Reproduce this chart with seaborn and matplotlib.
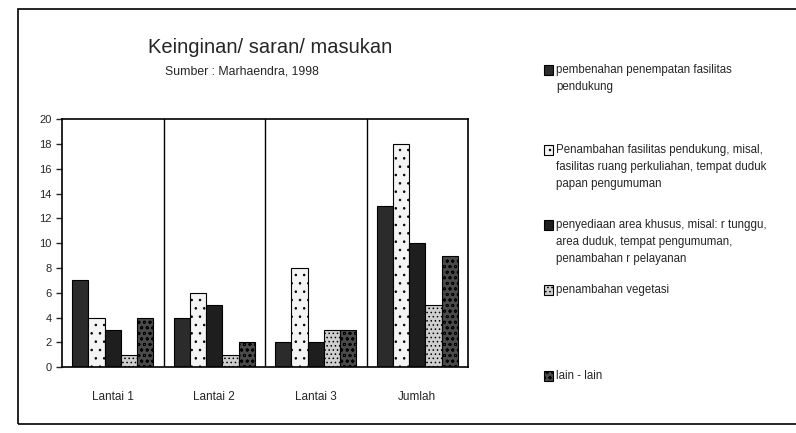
import matplotlib
matplotlib.use("Agg")
import matplotlib.pyplot as plt
import seaborn as sns
import pandas as pd
from matplotlib.patches import Rectangle

categories = ["Lantai 1", "Lantai 2", "Lantai 3", "Jumlah"]
series_names = [
    "pembenahan penempatan fasilitas\npendukung",
    "Penambahan fasilitas pendukung, misal,\nfasilitas ruang perkuliahan, tempat duduk\npapan pengumuman",
    "penyediaan area khusus, misal: r tunggu,\narea duduk, tempat pengumuman,\npenambahan r pelayanan",
    "penambahan vegetasi",
    "lain - lain",
]
s1 = [7, 4, 2, 13]
s2 = [4, 6, 8, 18]
s3 = [3, 5, 2, 10]
s4 = [1, 1, 3, 5]
s5 = [4, 2, 3, 9]
yticks = [0, 2, 4, 6, 8, 10, 12, 14, 16, 18, 20]

title = "Keinginan/ saran/ masukan"
subtitle = "Sumber : Marhaendra, 1998"

all_series = [s1, s2, s3, s4, s5]
rows = []
for name, vals in zip(series_names, all_series):
    for c, v in zip(categories, vals):
        rows.append({"cat": c, "series": name, "val": v})
df = pd.DataFrame(rows)

colors = ["#2b2b2b", "#f4f4f4", "#1e1e1e", "#cfcfcf", "#4a4a4a"]
hatches = [None, "..", None, "....", "ooo"]

sns.set_style("white")
plt.rcParams["font.family"] = ["Liberation Sans", "DejaVu Sans"]
plt.rcParams["hatch.linewidth"] = 0.6

fig = plt.figure(figsize=(7.96, 4.33), dpi=100)
ax = fig.add_axes([0.078, 0.152, 0.51, 0.573])

sns.barplot(data=df, x="cat", y="val", hue="series", palette=colors,
            width=0.8, edgecolor="black", linewidth=0.8, ax=ax, legend=False,
            saturation=1)

for i, cont in enumerate(ax.containers):
    for p in cont:
        if hatches[i]:
            p.set_hatch(hatches[i])

ax.set_ylim(0, 20)
ax.set_xlim(-0.5, 3.5)
ax.set_yticks(yticks)
ax.set_yticklabels([str(t) for t in yticks], fontsize=8)
ax.set_xlabel("")
ax.set_ylabel("")
ax.tick_params(axis="x", length=0, labelsize=8.5, pad=17)
ax.tick_params(axis="y", direction="out", length=4, width=1, left=True)
for sp in ax.spines.values():
    sp.set_color("black")
    sp.set_linewidth(1.2)
for xb in [0.5, 1.5, 2.5]:
    ax.axvline(xb, color="black", lw=1.0)

fig.text(0.186, 0.890, title, fontsize=14.5, ha="left", va="center")
fig.text(0.207, 0.836, subtitle, fontsize=8.8, ha="left", va="center")

# legend entries (manual layout)
leg_y = [70, 150, 225, 290, 376]
for i, (name, y) in enumerate(zip(series_names, leg_y)):
    yf = 1 - y / 433
    fig.patches.append(Rectangle((0.684, yf - 0.011), 0.011, 0.022,
                                 transform=fig.transFigure, facecolor=colors[i],
                                 edgecolor="black", lw=0.8, hatch=hatches[i]))
    fig.text(0.699, yf + 0.013, name, fontsize=8.3, ha="left", va="top",
             linespacing=1.55, transform=fig.transFigure)

# outer frame
fig.patches.append(Rectangle((0.022, 0.02), 1.2, 0.96, transform=fig.transFigure,
                             fill=False, edgecolor="black", lw=1.2))

fig.savefig("out.png", dpi=100)
